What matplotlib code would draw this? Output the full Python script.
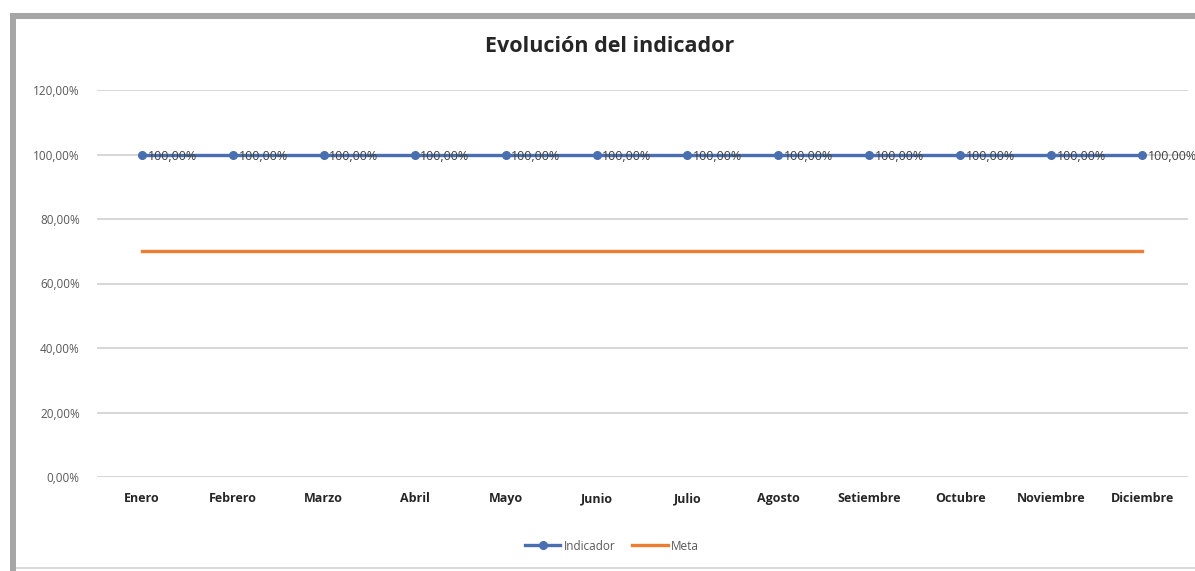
import matplotlib.pyplot as plt
from matplotlib.lines import Line2D
from matplotlib.patches import Rectangle
from matplotlib.ticker import FuncFormatter

# ── Data ──────────────────────────────────────────────────────────────────────
meses = ["Enero", "Febrero", "Marzo", "Abril", "Mayo", "Junio", "Julio",
         "Agosto", "Setiembre", "Octubre", "Noviembre", "Diciembre"]
indicador = [100, 100, 100, 100, 100, 100, 100, 100, 100, 100, 100, 100]
meta = [70, 70, 70, 70, 70, 70, 70, 70, 70, 70, 70, 70]
y_ticks = [0, 20, 40, 60, 80, 100, 120]

BLUE = "#4A6FB0"
ORANGE = "#ED7D31"
FONT = ["Open Sans", "DejaVu Sans"]

plt.rcParams["font.family"] = FONT

W, H = 1195, 571
fig = plt.figure(figsize=(W / 100, H / 100), dpi=100)
fig.patch.set_facecolor("white")

# ── Outer grey frame (top + left, like the screenshot) ────────────────────────
fig.patches.append(Rectangle((10 / W, 1 - 19 / H), 1 - 10 / W, 6 / H,
                             transform=fig.transFigure, color="#A6A6A6", lw=0))
fig.patches.append(Rectangle((10 / W, 0), 6 / W, 1 - 13 / H,
                             transform=fig.transFigure, color="#A6A6A6", lw=0))
fig.patches.append(Rectangle((16 / W, 2 / H), 1 - 16 / W, 2 / H,
                             transform=fig.transFigure, color="#D9D9D9", lw=0))

# ── Plot area ─────────────────────────────────────────────────────────────────
ax = fig.add_axes([96.5 / W, 1 - 477 / H, 1091 / W, 387 / H])
x = list(range(len(meses)))

ax.plot(x, meta, color=ORANGE, lw=2.4, label="Meta", zorder=3)
ax.plot(x, indicador, color=BLUE, lw=2.4, marker="o", ms=5.5,
        label="Indicador", zorder=4)

for xi, v in zip(x, indicador):
    ax.annotate(f"{v:.2f}%".replace(".", ","), (xi, v), xytext=(4, -1.5),
                textcoords="offset points", ha="left", va="center",
                fontsize=9, color="#404040", zorder=5)

ax.set_xlim(-0.5, len(meses) - 0.5)
ax.set_ylim(0, 120)
ax.set_yticks(y_ticks)
ax.yaxis.set_major_formatter(FuncFormatter(lambda v, p: f"{v:.2f}%".replace(".", ",")))
ax.set_xticks(x)
ax.set_xticklabels(meses, fontsize=9, fontweight="bold", color="#262626")
ax.tick_params(axis="y", labelsize=8.5, labelcolor="#595959", length=0, pad=12)
ax.tick_params(axis="x", length=0, pad=11)
ax.grid(axis="y", color="#CFCFCF", lw=1.2)
ax.set_axisbelow(True)
for s in ax.spines.values():
    s.set_visible(False)

fig.text(610 / W, 1 - 47 / H, "Evolución del indicador", ha="center",
         va="center", fontsize=15.5, fontweight="bold", color="#262626")

handles = [Line2D([], [], color=BLUE, lw=2.4, marker="o", ms=5.5),
           Line2D([], [], color=ORANGE, lw=2.4)]
fig.legend(handles, ["Indicador", "Meta"], loc="center",
           bbox_to_anchor=(612 / W, 1 - 546 / H), ncol=2, frameon=False,
           fontsize=8.5, labelcolor="#595959", handlelength=3, columnspacing=1.4,
           handletextpad=0.3)

fig.savefig("out.png", dpi=100, facecolor=fig.get_facecolor())
